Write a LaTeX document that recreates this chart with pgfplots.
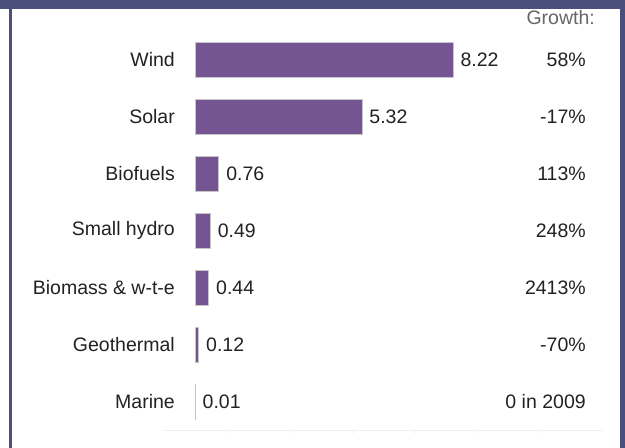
\documentclass[border=0pt]{standalone}
\usepackage{pgfplots}
\pgfplotsset{compat=1.18}
\usepackage{fontspec}
\setmainfont{Liberation Sans}
\definecolor{barpurple}{HTML}{745491}
\definecolor{frameblue}{HTML}{4A4F7C}
\definecolor{txt}{HTML}{222222}
\begin{document}
\fontsize{19.5bp}{23bp}\selectfont
\begin{tikzpicture}
\path (0bp,0bp) rectangle (625bp,448bp);
% frame
\fill[frameblue] (0bp,439bp) rectangle (625bp,448bp);
\fill[frameblue] (9bp,0bp) rectangle (12bp,439bp);
\fill[frameblue] (620bp,0bp) rectangle (625bp,439bp);
\begin{axis}[
  at={(163.6bp,18bp)}, anchor=south west,
  scale only axis, width=439.6bp, height=398.5bp,
  xmin=-1, xmax=13, ymin=-0.5, ymax=6.5, y dir=reverse,
  axis x line*=bottom, axis y line*=left,
  x axis line style={draw=gray!12, -},
  y axis line style={draw=none},
  xtick={1,3,5,7,9,11}, xticklabels={},
  x tick style={draw=gray!15}, tick align=outside, major tick length=3bp,
  ytick={0,...,6}, y tick style={draw=none},
  yticklabels={Wind,Solar,Biofuels,Small hydro,Biomass \& w-t-e,Geothermal,Marine},
  yticklabel style={inner sep=0pt, xshift=14.4bp, text=txt,
    font=\fontsize{19.5bp}{23bp}\selectfont},
  clip=false,
]
\addplot[xbar, bar width=0.61, bar shift=0pt, fill=barpurple, draw=gray!45, line width=0.8bp,
  nodes near coords, point meta=explicit symbolic,
  nodes near coords style={anchor=west, inner sep=0pt, xshift=7bp, text=txt,
    font=\fontsize{19.5bp}{23bp}\selectfont}]
  coordinates {(8.22,0)[8.22] (5.32,1)[5.32] (0.76,2)[0.76] (0.49,3)[0.49]
               (0.44,4)[0.44] (0.12,5)[0.12] (0.01,6)[0.01]};
% growth column
\addplot[draw=none, mark=none, nodes near coords, point meta=explicit symbolic,
  nodes near coords style={anchor=east, inner sep=0pt, text=txt,
    font=\fontsize{19.5bp}{23bp}\selectfont}]
  coordinates {(12.45,0)[58\%] (12.45,1)[-17\%] (12.45,2)[113\%] (12.45,3)[248\%]
               (12.45,4)[2413\%] (12.45,5)[-70\%] (12.45,6)[0 in 2009]};
\addplot[draw=none, mark=none, nodes near coords, point meta=explicit symbolic,
  nodes near coords style={anchor=east, inner sep=0pt, text=gray!80!black,
    font=\fontsize{19.5bp}{23bp}\selectfont}]
  coordinates {(12.74,-0.74)[Growth:]};
\end{axis}
\end{tikzpicture}
\end{document}
